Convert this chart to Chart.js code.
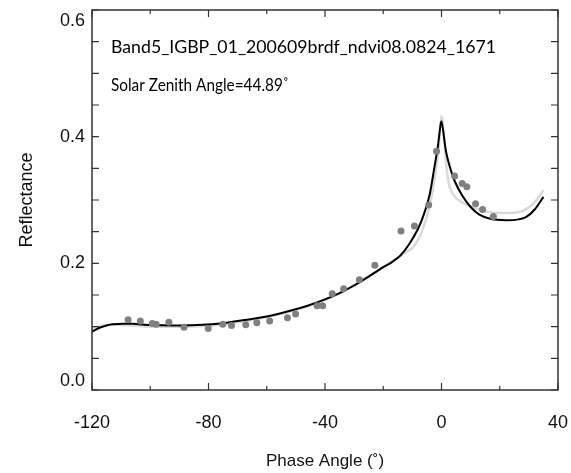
<!DOCTYPE html>
<html>
<head>
<meta charset="utf-8">
<script src="https://cdn.jsdelivr.net/npm/chart.js@4"></script>
<style>
  html, body { margin: 0; padding: 0; background: #fff; overflow: hidden; }
  #chart { display: block; }
</style>
</head>
<body>
<canvas id="chart" width="571" height="473"></canvas>
<script>
// observed reflectance (grey dots)
const OBS_X = [-107.6,-103.4,-99.3,-98.0,-93.6,-88.4,-80.1,-75.1,-72.1,-67.2,-63.4,-59.0,-52.9,-50.1,-42.7,-40.8,-37.5,-33.6,-28.2,-22.9,-13.9,-9.3,-4.4,-1.7,4.5,7.1,8.7,11.7,14.1,17.8];
const OBS_Y = [0.111,0.109,0.105,0.104,0.107,0.099,0.097,0.104,0.102,0.103,0.106,0.109,0.114,0.120,0.133,0.133,0.152,0.160,0.174,0.197,0.251,0.259,0.292,0.377,0.338,0.326,0.321,0.294,0.285,0.274];

// model 1 (black)
const FIT1_X = [-120,-117,-113,-106,-100,-90,-82,-76,-70,-64,-58,-52,-46,-40,-35,-30,-25,-20,-17,-14,-11,-8,-6,-4,-2.5,-1.3,0,1.5,3,4.5,7,10,13,17,22,26,29,32,35];
const FIT1_Y = [0.092,0.099,0.104,0.1045,0.1025,0.102,0.103,0.105,0.109,0.113,0.118,0.125,0.133,0.143,0.153,0.165,0.179,0.194,0.202,0.213,0.231,0.255,0.278,0.310,0.350,0.383,0.424,0.378,0.350,0.330,0.308,0.289,0.277,0.270,0.268,0.269,0.273,0.285,0.305];

// model 2 (light grey)
const FIT2_X = [-120,-116,-112,-106,-100,-90,-82,-76,-70,-64,-58,-52,-46,-40,-35,-30,-25,-20,-15,-12,-10,-7.5,-5,-3.4,-2,-1,0,1,2,3,5,8,10,14,18,25,28,31,33,35];
const FIT2_Y = [0.097,0.102,0.103,0.102,0.100,0.100,0.101,0.103,0.107,0.111,0.117,0.124,0.132,0.142,0.153,0.166,0.180,0.194,0.209,0.218,0.224,0.242,0.274,0.306,0.345,0.380,0.432,0.390,0.340,0.318,0.303,0.294,0.290,0.283,0.280,0.280,0.283,0.292,0.302,0.316];

const X_MIN = -120, X_MAX = 40;
const Y_MIN = 0, Y_MAX = 0.6;
const X_TICKS = [-120, -100, -80, -60, -40, -20, 0, 20, 40];
const X_MAJOR = [-120, -80, -40, 0, 40];
const Y_TICKS = [0, 0.05, 0.1, 0.15, 0.2, 0.25, 0.3, 0.35, 0.4, 0.45, 0.5, 0.55, 0.6];
const Y_LABELS = [0, 0.2, 0.4, 0.6];

const NOTE_LINES = ['Band5_IGBP_01_200609brdf_ndvi08.0824_1671', 'Solar Zenith Angle=44.89\u02DA'];

const AXIS_FONT = '"Liberation Sans", Arial, sans-serif';
const toPts = (xs, ys) => xs.map((x, i) => ({ x, y: ys[i] }));

// frame, inward ticks, y labels and note text
const framePlugin = {
  id: 'frame',
  afterDraw(chart) {
    const { ctx, chartArea: a, scales: { x, y } } = chart;
    ctx.save();
    ctx.strokeStyle = '#333';
    ctx.lineWidth = 1.5;
    ctx.strokeRect(a.left, a.top, a.right - a.left, a.bottom - a.top);

    ctx.lineWidth = 1.2;
    ctx.beginPath();
    X_TICKS.forEach(v => {
      const px = x.getPixelForValue(v);
      const len = X_MAJOR.includes(v) ? 7 : 4;
      ctx.moveTo(px, a.bottom); ctx.lineTo(px, a.bottom - len);
      ctx.moveTo(px, a.top); ctx.lineTo(px, a.top + len);
    });
    Y_TICKS.forEach(v => {
      const py = y.getPixelForValue(v);
      ctx.moveTo(a.left, py); ctx.lineTo(a.left + 7, py);
      ctx.moveTo(a.right, py); ctx.lineTo(a.right - 7, py);
    });
    ctx.stroke();

    // y labels, kept inside the frame height
    ctx.fillStyle = '#111';
    ctx.font = '18px ' + AXIS_FONT;
    ctx.textAlign = 'right';
    ctx.textBaseline = 'middle';
    Y_LABELS.forEach(v => {
      let py = y.getPixelForValue(v);
      py = Math.min(Math.max(py, a.top + 11), a.bottom - 9);
      ctx.fillText(v.toFixed(1), a.left - 7, py);
    });

    // note
    ctx.fillStyle = '#000';
    ctx.textAlign = 'left';
    ctx.textBaseline = 'alphabetic';
    ctx.font = '18px Lato, "Open Sans", sans-serif';
    ctx.fillText(NOTE_LINES[0], a.left + 19, a.top + 43, 385);
    ctx.fillText(NOTE_LINES[1], a.left + 19, a.top + 81, 178);
    ctx.restore();
  }
};

new Chart(document.getElementById('chart'), {
  type: 'scatter',
  data: {
    datasets: [
      {
        label: 'Observed',
        data: toPts(OBS_X, OBS_Y),
        backgroundColor: '#808080', borderColor: '#808080',
        pointRadius: 3.5, pointBorderWidth: 0, showLine: false, order: 0,
      },
      {
        label: 'Model 1',
        data: toPts(FIT1_X, FIT1_Y),
        borderColor: '#000', borderWidth: 2, pointRadius: 0,
        showLine: true, tension: 0.25, order: 1,
      },
      {
        label: 'Model 2',
        data: toPts(FIT2_X, FIT2_Y),
        borderColor: '#d9d9d9', borderWidth: 2.5, pointRadius: 0,
        showLine: true, tension: 0.25, order: 2,
      },
    ],
  },
  options: {
    responsive: false, animation: false, devicePixelRatio: 1,
    layout: { padding: { top: 10, right: 13, left: 0, bottom: 0 } },
    plugins: { legend: { display: false }, tooltip: { enabled: false } },
    scales: {
      x: {
        type: 'linear', min: X_MIN, max: X_MAX,
        grid: { display: false, drawTicks: false },
        border: { display: false },
        ticks: {
          stepSize: 40, padding: 22, color: '#111',
          font: { family: AXIS_FONT, size: 18 },
        },
        title: {
          display: true, text: 'Phase Angle (\u02DA)', color: '#111',
          font: { family: AXIS_FONT, size: 17 },
          padding: { top: 0, bottom: 1 },
        },
        afterFit(scale) {
          scale.height = 83;
          scale.paddingLeft = 0;
          scale.paddingRight = 0;
        },
      },
      y: {
        type: 'linear', min: Y_MIN, max: Y_MAX,
        grid: { display: false, drawTicks: false },
        border: { display: false },
        ticks: { display: false },
        title: {
          display: true, text: 'Reflectance', color: '#111',
          font: { family: AXIS_FONT, size: 18 },
          padding: { top: 16, bottom: 0 },
        },
        afterFit(scale) { scale.width = 92; },
      },
    },
  },
  plugins: [framePlugin],
});
</script>
</body>
</html>
